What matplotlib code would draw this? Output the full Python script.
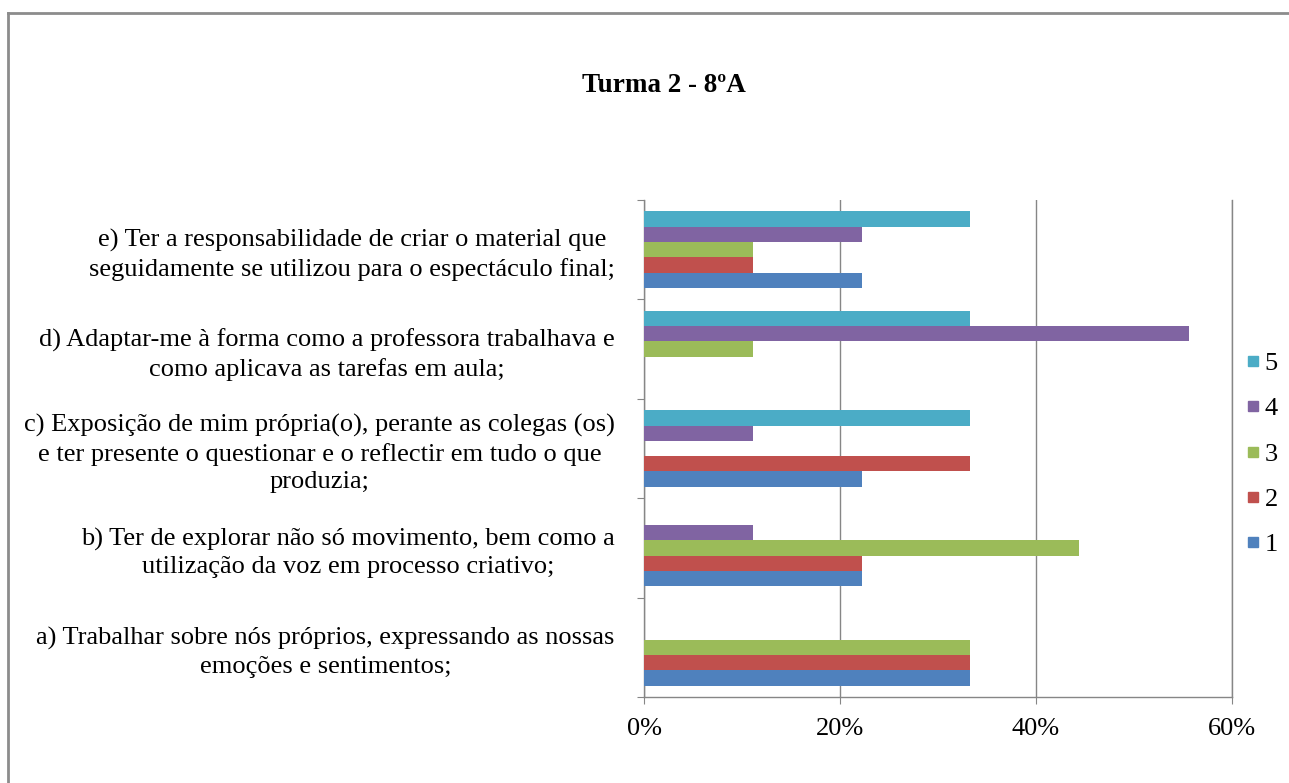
import matplotlib
matplotlib.use("Agg")
import matplotlib.pyplot as plt
from matplotlib.lines import Line2D
import numpy as np

plt.rcParams['font.family'] = ['Liberation Serif', 'DejaVu Serif']

categories = [
    "a) Trabalhar sobre nós próprios, expressando as nossas\nemoções e sentimentos;",
    "b) Ter de explorar não só movimento, bem como a\nutilização da voz em processo criativo;",
    "c) Exposição de mim própria(o), perante as colegas (os)\ne ter presente o questionar e o reflectir em tudo o que\nproduzia;",
    "d) Adaptar-me à forma como a professora trabalhava e\ncomo aplicava as tarefas em aula;",
    "e) Ter a responsabilidade de criar o material que\nseguidamente se utilizou para o espectáculo final;",
]
series_names = ["1", "2", "3", "4", "5"]
s1 = [0.333, 0.222, 0.222, 0.0, 0.222]
s2 = [0.333, 0.222, 0.333, 0.0, 0.111]
s3 = [0.333, 0.444, 0.0, 0.111, 0.111]
s4 = [0.0, 0.111, 0.111, 0.556, 0.222]
s5 = [0.0, 0.0, 0.333, 0.333, 0.333]
values = [s1, s2, s3, s4, s5]
colors = ["#4F81BD", "#C0504D", "#9BBB59", "#8064A2", "#4BACC6"]
xticks = [0.0, 0.2, 0.4, 0.6]
xticklabels = ["0%", "20%", "40%", "60%"]
title = "Turma 2 - 8ºA"

W, H = 1289, 783
fig = plt.figure(figsize=(W / 100, H / 100), dpi=100)
ax = fig.add_axes([644 / W, 1 - 697 / H, (1232 - 644) / W, (697 - 200) / H])

y = np.arange(len(categories))
bh = 1 / 6.5
for i, (vals, c) in enumerate(zip(values, colors)):
    ax.barh(y + (i - 2) * bh, vals, height=bh, color=c, zorder=3, label=series_names[i])

ax.set_xlim(0, 0.6)
ax.set_ylim(-0.5, len(categories) - 0.5)
gc = "#868686"
ax.set_xticks(xticks)
ax.set_xticklabels(xticklabels, fontsize=19)
ax.tick_params(axis='x', direction='out', length=5, color=gc, pad=10)
ax.xaxis.grid(True, color=gc, linewidth=1, zorder=0)
ax.set_yticks(np.arange(len(categories) + 1) - 0.5)
ax.set_yticklabels([])
ax.tick_params(axis='y', which='major', direction='out', length=5, color=gc)
ax.set_yticks(y, minor=True)
ax.set_yticklabels(categories, minor=True, fontsize=19, multialignment='center', linespacing=1.32)
ax.tick_params(axis='y', which='minor', length=0, pad=21)
ax.spines['top'].set_visible(False)
for s in ['left', 'bottom', 'right']:
    ax.spines[s].set_color(gc)
    ax.spines[s].set_linewidth(1)

fig.text(664 / W, 1 - 85 / H, title, ha='center', va='center', fontsize=19.5, fontweight='bold')

handles = [Line2D([], [], linestyle='none', marker='s', markersize=7.5, color=c) for c in colors]
leg = fig.legend(handles[::-1], series_names[::-1], loc='center left',
                 bbox_to_anchor=(1233 / W, 1 - 454 / H), frameon=False, fontsize=19,
                 handlelength=0.5, handletextpad=0.2, labelspacing=0.83, borderpad=0)

fig.add_artist(Line2D([8 / W, 1], [1 - 13 / H, 1 - 13 / H], color="#8c8c8c", linewidth=2))
fig.add_artist(Line2D([8 / W, 8 / W], [1 - 13 / H, 0], color="#8c8c8c", linewidth=2))

fig.savefig("out.png", dpi=100)
